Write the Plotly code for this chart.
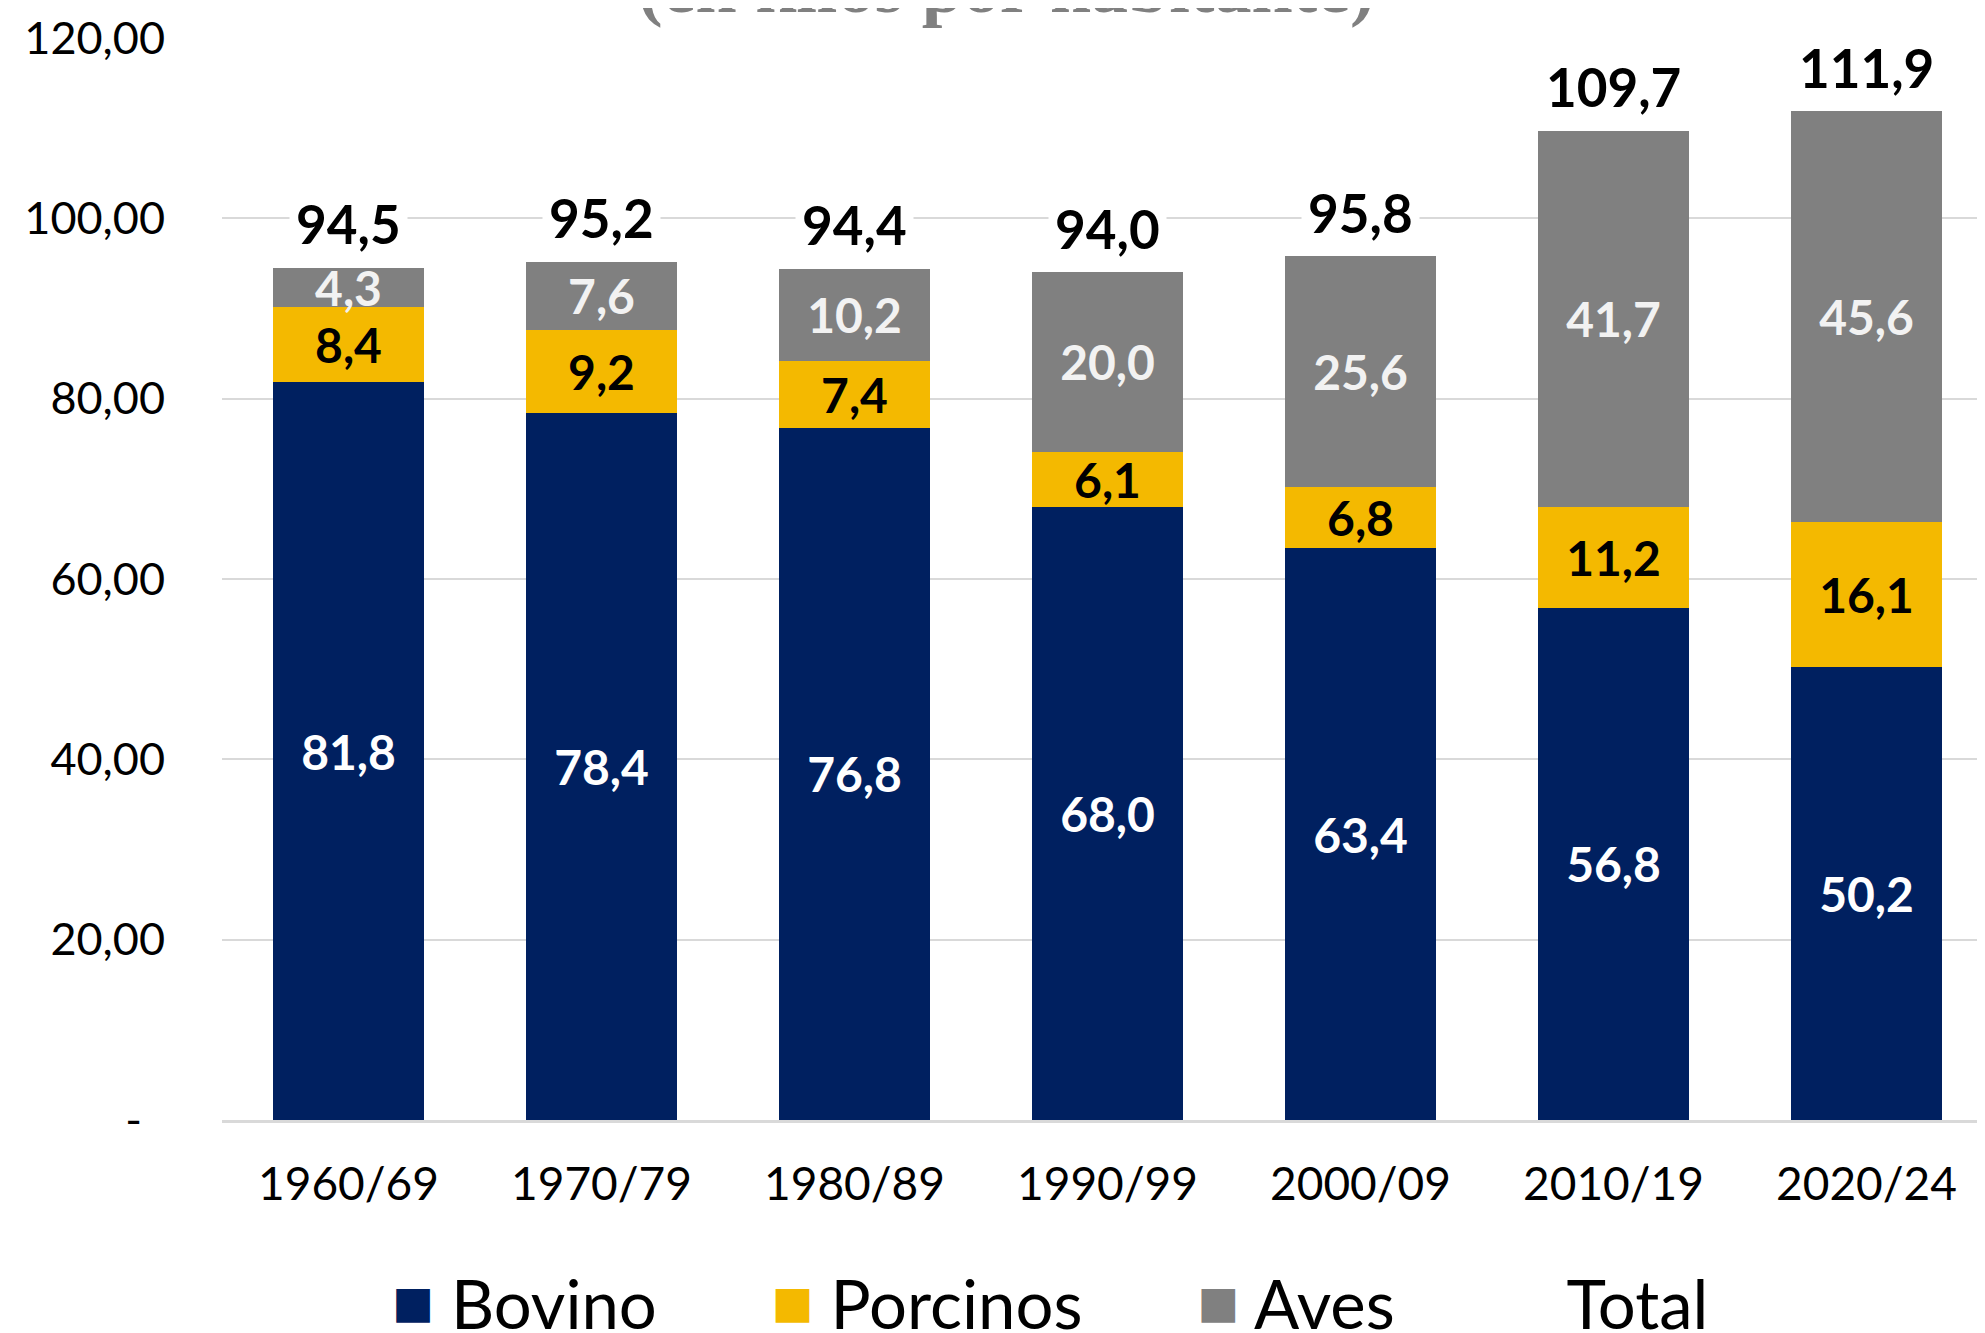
import plotly.graph_objects as go

# Datos (kilos por habitante)
periodos = ["1960/69", "1970/79", "1980/89", "1990/99", "2000/09", "2010/19", "2020/24"]
bovino = [81.8, 78.4, 76.8, 68.0, 63.4, 56.8, 50.2]
porcinos = [8.4, 9.2, 7.4, 6.1, 6.8, 11.2, 16.1]
aves = [4.3, 7.6, 10.2, 20.0, 25.6, 41.7, 45.6]
total = [94.5, 95.2, 94.4, 94.0, 95.8, 109.7, 111.9]

y_ticks = [0, 20, 40, 60, 80, 100, 120]
y_ticktext = ["-\u00a0\u00a0", "20,00", "40,00", "60,00", "80,00", "100,00", "120,00"]

FONT = "Lato, sans-serif"
colores = {"Bovino": "#002060", "Porcinos": "#F4B900", "Aves": "#808080"}
color_texto = {"Bovino": "white", "Porcinos": "black", "Aves": "#F2F2F2"}

fig = go.Figure()

for nombre, valores in [("Bovino", bovino), ("Porcinos", porcinos), ("Aves", aves)]:
    fig.add_trace(go.Bar(
        x=periodos, y=valores, name=nombre,
        marker=dict(color=colores[nombre], line=dict(width=0)),
        texttemplate="%{y:.1f}", textposition="inside", insidetextanchor="middle",
        textangle=0,
        textfont=dict(family=FONT, size=48, color=color_texto[nombre], weight="bold"),
        showlegend=False,
    ))

# leyenda con cuadrados grandes
def etiqueta(color, texto):
    return ("<span style='color:%s;font-family:DejaVu Sans;font-size:44px;"
            "baseline-shift:12px'>\u25a0</span>\u00a0%s" % (color, texto))

for nombre in ["Bovino", "Porcinos", "Aves"]:
    fig.add_trace(go.Scatter(
        x=[None], y=[None], mode="markers", name=etiqueta(colores[nombre], nombre),
        marker=dict(color="rgba(0,0,0,0)"), hoverinfo="skip",
    ))

fig.add_trace(go.Scatter(
    x=periodos, y=total, mode="markers", name=etiqueta("rgba(0,0,0,0)", "Total"),
    marker=dict(color="rgba(0,0,0,0)", size=1),
))

# etiquetas de total con fondo blanco
for p, t in zip(periodos, total):
    fig.add_annotation(
        x=p, y=t, text=f"{t:.1f}".replace(".", ","), showarrow=False,
        yanchor="middle", yshift=44, bgcolor="white", borderpad=6,
        font=dict(family=FONT, size=53, color="black", weight="bold"),
    )

# titulo (cortado en el borde superior)
fig.add_annotation(
    xref="paper", yref="paper", x=0.443, y=1.047, xanchor="center", yanchor="middle",
    text="<b>(en kilos por habitante)</b>", showarrow=False,
    font=dict(family="Liberation Serif", size=74, color="#808080"),
)

fig.update_layout(
    barmode="stack",
    bargap=0.407,
    separators=",.",
    width=1985, height=1333,
    margin=dict(l=214, r=0, t=30, b=221, autoexpand=False),
    plot_bgcolor="white", paper_bgcolor="white",
    font=dict(family=FONT, size=46, color="black"),
    uniformtext=dict(minsize=48, mode="show"),
    xaxis=dict(
        range=[-0.5, 6.5], showgrid=False, showline=True, linecolor="#D9D9D9", linewidth=3,
        ticks="", ticklabelstandoff=22, tickfont=dict(family=FONT, size=46, color="black"),
    ),
    yaxis=dict(
        range=[0, 120], tickvals=y_ticks, ticktext=y_ticktext,
        showgrid=True, gridcolor="#D9D9D9", gridwidth=2, zeroline=False,
        ticks="", ticklabelstandoff=56, tickfont=dict(family=FONT, size=45, color="black"),
    ),
    legend=dict(
        orientation="h", traceorder="normal", x=0.034, xanchor="left", y=-0.123, yanchor="top",
        font=dict(family=FONT, size=67, color="black"), itemwidth=100,
        bgcolor="rgba(0,0,0,0)",
    ),
)

fig.write_html("out.html")
